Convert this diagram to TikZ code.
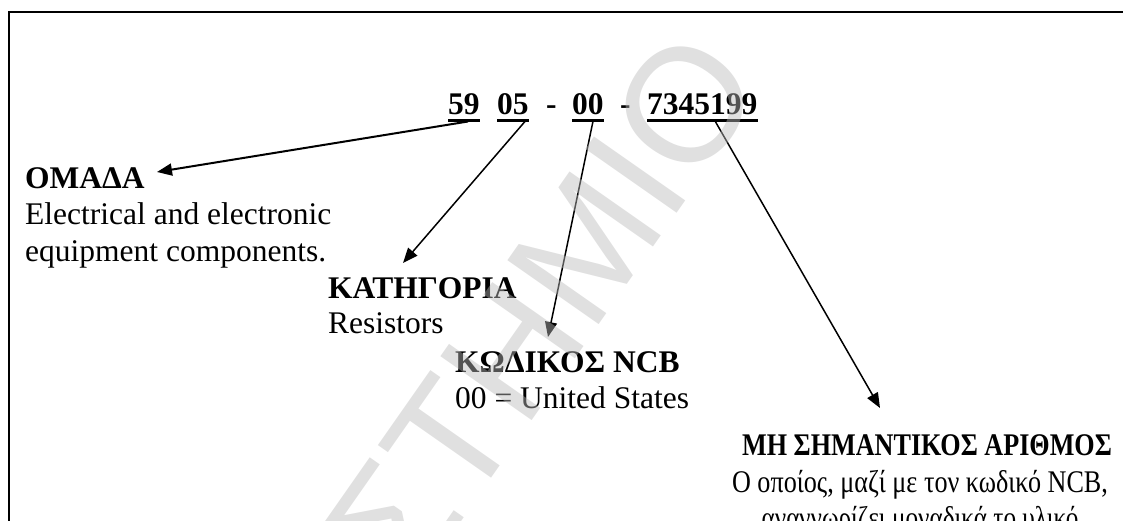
\documentclass[tikz,border=0pt]{standalone}
\usepackage{fontspec}
\setmainfont{Liberation Serif}
\newfontfamily\wmfont{Liberation Sans}
\usetikzlibrary{arrows.meta}
\begin{document}
\begin{tikzpicture}[x=1pt,y=-1pt,
  txt/.style={inner sep=0pt, anchor=base west, font=\fontsize{31.5}{36}\selectfont},
  ttl/.style={txt, font=\fontsize{31.5}{36}\selectfont\bfseries},
  ctr/.style={inner sep=0pt, anchor=base, font=\fontsize{31.5}{36}\selectfont},
  uline/.style={line width=2.5pt},
  arr/.style={line width=1.5pt, -{Triangle[length=15pt,width=12pt]}},
  frame/.style={line width=2pt},
  wm/.style={rotate=55, inner sep=0pt, font=\wmfont\fontsize{162}{162}\selectfont, text=black!27, text opacity=0.45}
  ]
\useasboundingbox (0,0) rectangle (1123,521);
\clip (0,0) rectangle (1123,521);
\draw[frame] (9,600) -- (9,12) -- (1200,12);

% code number
\node[ttl] (n59) at (448,115) {59};
\node[ttl] (n05) at (497,115) {05};
\node[ttl] (d1) at (546,115) {-};
\node[ttl] (n00) at (572,115) {00};
\node[ttl] (d2) at (620,115) {-};
\node[ttl] (nser) at (647,115) {7345199};
\foreach \n in {n59,n05,n00,nser}
  \draw[uline] ([yshift=-5pt]\n.south west) -- ([yshift=-5pt]\n.south east);

% labels
\node[ttl] (omada) at (25,189) {ΟΜΑΔΑ};
\node[txt] (omada1) at (25,225) {Electrical and electronic};
\node[txt] (omada2) at (25,261) {equipment components.};

\node[ttl] (kat) at (328,298) {ΚΑΤΗΓΟΡΙΑ};
\node[txt] (kat1) at (328,333) {Resistors};

\node[ttl] (ncb) at (455,372) {ΚΩΔΙΚΟΣ NCB};
\node[txt] (ncb1) at (455,408) {00 = United States};

\node[ctr, xscale=0.83, font=\fontsize{31.5}{36}\selectfont\bfseries] (mhs) at (927,455) {ΜΗ ΣΗΜΑΝΤΙΚΟΣ ΑΡΙΘΜΟΣ};
\node[ctr, xscale=0.83] (mhs1) at (920,492) {Ο οποίος, μαζί με τον κωδικό NCB,};
\node[ctr, xscale=0.80] (mhs2) at (920,528) {αναγνωρίζει μοναδικά το υλικό};

% arrow tips
\coordinate (t1) at (157,172);
\coordinate (t2) at (403,263);
\coordinate (t3) at (548,337);
\coordinate (t4) at (880,408);

\draw[arr, line width=2pt] ([xshift=4pt,yshift=-6pt]n59.south) -- (t1);
\draw[arr] ([xshift=12pt,yshift=-6pt]n05.south) -- (t2);
\draw[arr] ([xshift=5pt,yshift=-6pt]n00.south) -- (t3);
\draw[arr] ([xshift=13pt,yshift=-6pt]nser.south) -- (t4);

% watermark
\node[wm] (wmark) at (543,308) {ΣΤΗΜΙΟ};
\end{tikzpicture}
\end{document}
